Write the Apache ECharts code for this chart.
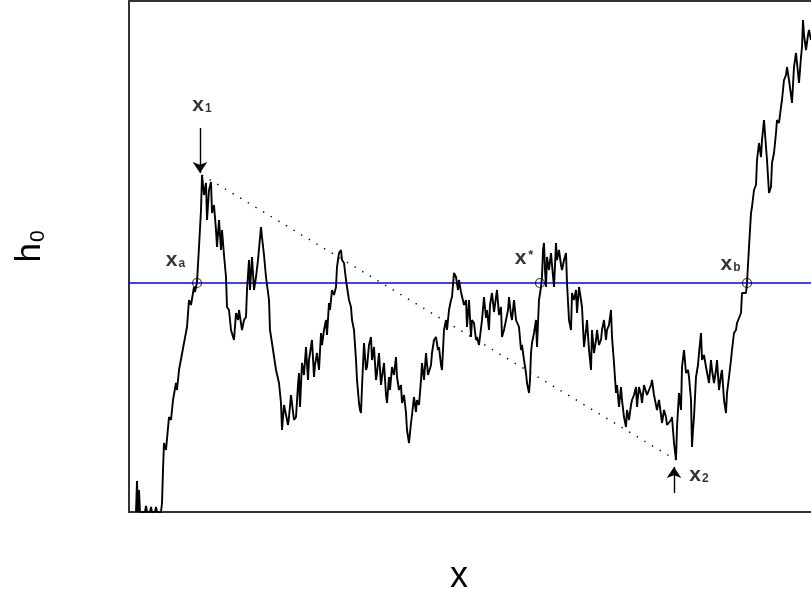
<!DOCTYPE html>
<html>
<head>
<meta charset="utf-8">
<script src="https://cdn.jsdelivr.net/npm/echarts@6/dist/echarts.min.js"></script>
<style>
  html, body { margin: 0; padding: 0; background: #fff; }
  #chart { width: 811px; height: 599px; }
</style>
</head>
<body>
<div id="chart"></div>
<script>
// Height profile h(x) of a rough interface, sampled along x.
const walk = [
  [7,0],[8,31],[9,0],[10,22],[11,0],[16,0],[17,6],[18,0],[21,0],[22,5],[23,0],[26,0],[27,5],[28,0],[32,0],
  [33,9],[34,42],[35,69],[37,62],[40,95],[42,92],[44,112],[47,129],[48,122],[50,142],[52,140],[55,169],
  [57,167],[58,185],[60,212],[62,207],[65,225],[66,220],[68,230],[70,265],[72,302],[73,337],[75,317],
  [77,329],[78,292],[80,322],[82,330],[83,299],[85,307],[87,282],[88,265],[90,292],[92,262],[93,282],
  [95,257],[97,235],[98,205],[100,202],[102,182],[105,172],[107,199],[109,192],[110,202],[113,182],
  [115,192],[117,195],[118,222],[120,252],[121,222],[123,255],[125,222],[127,235],[129,252],[132,285],
  [133,275],[135,257],[137,235],[140,212],[141,182],[143,169],[145,167],[147,142],[150,129],[152,109],
  [153,82],[155,107],[157,109],[159,87],[160,95],[162,117],[163,115],[165,92],[167,95],[169,127],[170,139],
  [171,105],[173,149],[175,137],[177,165],[179,132],[180,152],[183,172],[185,135],[186,147],[188,159],
  [190,142],[192,179],[193,167],[195,182],[197,192],[198,177],[200,209],[201,202],[203,222],[205,217],
  [207,225],[208,245],[210,259],[212,262],[213,252],[215,249],[217,232],[218,225],[220,212],[222,205],
  [223,192],[225,182],[227,152],[228,132],[230,109],[231,102],[232,99],[233,125],[235,169],[237,142],
  [238,145],[240,167],[242,175],[243,152],[245,165],[247,132],[248,139],[250,159],[252,127],[253,135],
  [255,149],[257,117],[258,109],[260,135],[261,122],[263,145],[265,137],[267,155],[268,135],[270,122],
  [272,127],[273,109],[275,117],[277,99],[278,82],[280,69],[282,89],[283,97],[285,115],[287,100],
  [288,112],[290,107],[292,132],[293,149],[295,132],[297,159],[299,137],[300,139],[302,147],[303,159],
  [305,172],[307,175],[309,162],[310,165],[312,147],[313,142],[315,182],[317,192],[318,182],[320,202],
  [322,212],[323,215],[325,239],[327,235],[329,222],[330,232],[332,220],[333,219],[335,207],[337,212],
  [338,185],[340,212],
  [342,175],[343,192],[345,189],[347,172],[348,175],[350,167],[352,165],[353,192],[355,215],[357,194],
  [358,202],[360,182],[361,207],[363,219],[365,200],[367,202],[368,222],[370,197],[372,205],[373,175],
  [375,182],[377,192],[379,202],[380,215],[382,197],[383,192],[385,212],[387,192],[389,190],[390,185],
  [392,162],[393,167],[395,152],[397,139],[398,129],[400,119],[401,132],[402,159],[403,169],[405,179],
  [407,192],[408,165],[410,212],[412,225],[413,235],[414,262],[415,269],[416,242],[417,225],[418,255],
  [420,242],[422,259],[423,247],[425,225],[427,269],[428,252],[430,262],[432,247],[433,242],[435,252],
  [437,259],[438,229],[440,192],[442,182],[443,219],[445,212],[447,222],[448,199],[450,225],[452,212],
  [453,205],[455,165],[457,182],[458,192],[460,162],[462,142],[463,182],[465,159],[467,172],[468,182],
  [470,167],[472,172],[473,182],[475,192],[477,172],[478,182],[480,187],[482,202],[483,175],[485,149],
  [487,119],[488,127],[490,105],[492,125],[493,112],[495,95],[497,85],[498,102],[500,92],[502,107],
  [503,112],[505,117],[507,125],[508,105],[510,125],
  [512,117],[513,109],[515,127],[517,129],[518,117],[520,122],[522,127],[523,132],[525,117],[527,119],
  [528,102],[530,112],[532,97],[533,89],[535,102],[537,95],[538,87],[540,85],[542,92],[543,95],[545,69],
  [547,52],[548,85],[550,119],[552,102],[553,145],[555,162],[557,139],[559,142],[560,135],[562,112],
  [563,65],[564,82],[565,95],[567,135],[569,147],[570,159],[572,179],[573,152],[575,157],[577,145],
  [579,147],[580,129],[582,152],[583,142],[585,129],[587,142],[588,152],[590,122],[592,137],[593,142],
  [595,112],[597,99],[598,119],[600,135],[602,152],[603,162],[605,179],[607,182],[608,189],[610,194],
  [612,199],[613,219],[615,217],[617,219],[618,229],[620,265],[622,299],[623,305],[625,322],[627,327],
  [628,352],[630,369],[632,355],[633,372],[635,392],[637,365],[638,352],[640,319],[642,325],[643,349],
  [645,359],[647,379],[648,392],[650,389],[652,405],[653,412],[655,432],[657,437],[658,445],[660,432],
  [662,417],[663,409],[665,445],[667,459],[668,449],[670,429],[672,455],[673,465],[674,492],[675,477],
  [677,462],[679,477],[680,482],[682,472]
];

// Reference level h0 and the points where the profile meets it
const H0 = 229;
const crossingX = [68, 411, 618];

// Highest point x1 and lowest point x2 of the profile
const x1Point = [73, 337];
const x2Point = [547, 52];

// Arrows pointing at x1 (from above) and x2 (from below)
const arrowX1 = [[71, 384], [71, 339]];
const arrowX2 = [[545, 19], [545, 45]];

// Point labels: anchor in data units, main letter, subscript / superscript
const pointLabels = [
  { at: [73, 407],   main: 'x', sub: '1' },
  { at: [570, 37],   main: 'x', sub: '2' },
  { at: [46.5, 252], main: 'x', sub: 'a' },
  { at: [395, 253],  main: 'x', sup: '*' },
  { at: [601.5, 248], main: 'x', sub: 'b' }
];

const FONT = '"Liberation Sans", Arial, Helvetica, sans-serif';
const FRAME = { show: true, onZero: false, lineStyle: { color: '#333', width: 2 } };
const HIDDEN = { show: false };
const INK = { color: '#000', textBorderWidth: 0, textBorderColor: 'transparent', fontFamily: FONT, fontWeight: 'bold' };

const chart = echarts.init(document.getElementById('chart'), null, { renderer: 'canvas' });

chart.setOption({
  animation: false,
  backgroundColor: '#fff',
  grid: { left: 129, top: 1, right: 0, bottom: 87, outerBoundsMode: 'none', containLabel: false },
  xAxis: [
    {
      type: 'value', min: 0, max: 682, position: 'bottom',
      axisLine: FRAME, axisTick: HIDDEN, axisLabel: HIDDEN, splitLine: HIDDEN,
      name: 'x', nameLocation: 'middle', nameGap: 47,
      nameTextStyle: {
        fontFamily: FONT, fontSize: 36, color: '#000', lineHeight: 36,
        padding: [0, 22, 0, 0]
      }
    },
    {
      // top edge of the frame
      type: 'value', min: 0, max: 682, position: 'top',
      axisLine: FRAME, axisTick: HIDDEN, axisLabel: HIDDEN, splitLine: HIDDEN
    }
  ],
  yAxis: {
    type: 'value', min: 0, max: 511,
    axisLine: FRAME, axisTick: HIDDEN, axisLabel: HIDDEN, splitLine: HIDDEN,
    name: '{h|h}{s|0}', nameLocation: 'middle', nameGap: 80, nameRotate: 90,
    nameTextStyle: {
      fontFamily: FONT, color: '#000',
      padding: [0, 0, 0, 20],
      rich: {
        h: { fontFamily: FONT, fontSize: 35, lineHeight: 36, verticalAlign: 'top', color: '#000' },
        s: { fontFamily: FONT, fontSize: 21, lineHeight: 22, verticalAlign: 'bottom',
             padding: [23, 0, 0, 1], color: '#000' }
      }
    }
  },
  series: [
    {
      // dotted chord joining x1 and x2
      type: 'line', data: [x1Point, x2Point], symbol: 'none', z: 1,
      lineStyle: { color: '#000', width: 1.4, type: [1.4, 7.5] }
    },
    {
      // level h0
      type: 'line', data: [[0, H0], [682, H0]], symbol: 'none', z: 2,
      lineStyle: { color: '#0000ff', width: 1.6 }
    },
    {
      // profile h(x)
      type: 'line', data: walk, symbol: 'none', z: 3, sampling: null,
      lineStyle: { color: '#000', width: 1.9 }
    },
    {
      // crossings of the level h0
      type: 'scatter', z: 4,
      data: crossingX.map(x => [x, H0]),
      symbol: 'circle', symbolSize: 9,
      itemStyle: { color: 'rgba(0,0,0,0)', borderColor: '#000', borderWidth: 1.2 }
    },
    {
      type: 'lines', coordinateSystem: 'cartesian2d', z: 5,
      polyline: false,
      symbol: ['none', 'arrow'], symbolSize: 11,
      lineStyle: { color: '#000', width: 1.4, opacity: 1, curveness: 0 },
      data: [{ coords: arrowX1 }, { coords: arrowX2 }]
    },
    {
      type: 'scatter', z: 6, symbolSize: 0,
      itemStyle: { color: '#000' },
      data: pointLabels.map(p => ({ value: p.at, p: p })),
      label: Object.assign({
        show: true, position: 'inside',
        formatter: params => {
          const p = params.data.p;
          if (p.sup) return '{m2|' + p.main + '}{sp|' + p.sup + '}';
          return '{m|' + p.main + '}{sb|' + p.sub + '}';
        },
        rich: {
          m:  Object.assign({ fontSize: 21, lineHeight: 20, verticalAlign: 'top' }, INK),
          sb: Object.assign({ fontSize: 12, lineHeight: 12, verticalAlign: 'bottom', padding: [14, 0, 0, 1] }, INK),
          m2: Object.assign({ fontSize: 21, lineHeight: 20, verticalAlign: 'bottom' }, INK),
          sp: Object.assign({ fontSize: 13, lineHeight: 10, verticalAlign: 'top', padding: [0, 0, 14, 2] }, INK)
        }
      }, INK)
    }
  ]
});
</script>
</body>
</html>
